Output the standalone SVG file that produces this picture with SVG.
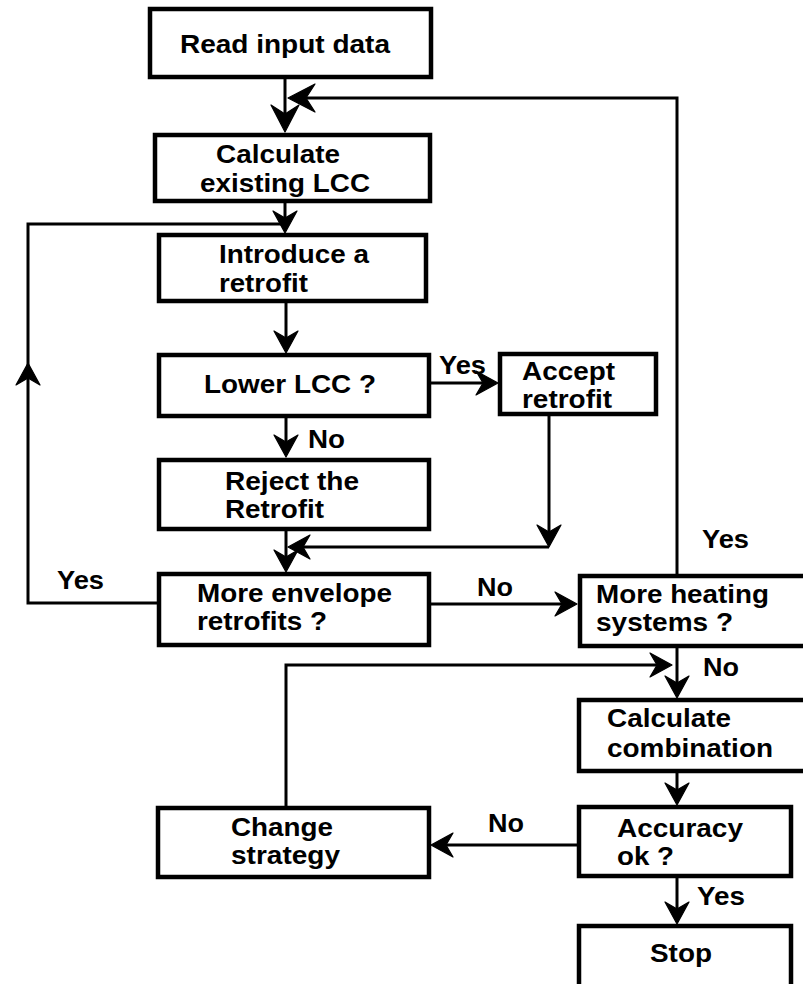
<svg xmlns="http://www.w3.org/2000/svg" width="803" height="984" viewBox="0 0 803 984">
<style>
.box{fill:#fff;stroke:#000;stroke-width:4.5}
.t{font-family:"Liberation Sans",Arial,sans-serif;font-weight:bold;font-size:26px;fill:#000}
.c{fill:none;stroke:#000;stroke-width:3}
.a{marker-end:url(#arr)}
.ab{marker-end:url(#arrb)}
</style>
<defs>
<marker id="arr" markerUnits="userSpaceOnUse" viewBox="-22 -14 28 28" refX="0" refY="0" markerWidth="28" markerHeight="28" orient="auto" overflow="visible">
<path d="M4,0 L-18,-12 L-11,0 L-18,12 Z" fill="#000" stroke="#000" stroke-width="1.2" stroke-linejoin="round"/>
</marker>
<marker id="arrb" markerUnits="userSpaceOnUse" viewBox="-27 -16 33 32" refX="0" refY="0" markerWidth="33" markerHeight="32" orient="auto" overflow="visible">
<path d="M4,0 L-23,-14 L-14,0 L-23,14 Z" fill="#000" stroke="#000" stroke-width="1.2" stroke-linejoin="round"/>
</marker>
</defs>
<rect width="803" height="984" fill="#fff"/>
<g id="connectors">
<path class="c ab" d="M285,79 V128"/>
<path class="c ab" d="M677,576 V98 H292"/>
<path class="c a" d="M285,201 V229"/>
<path class="c a" d="M159,603 H28 V367"/>
<path class="c" d="M28,367 V224 H285"/>
<path class="c a" d="M286,301 V349"/>
<path class="c a" d="M429,383 H494"/>
<path class="c a" d="M286,416 V453"/>
<path class="c a" d="M549,414 V543"/>
<path class="c a" d="M549,547 H292"/>
<path class="c a" d="M286,529 V568"/>
<path class="c a" d="M429,604 H573"/>
<path class="c a" d="M677,646 V694"/>
<path class="c a" d="M286,808 V665 H668"/>
<path class="c a" d="M677,771 V801"/>
<path class="c a" d="M579,845 H435"/>
<path class="c a" d="M677,876 V920"/>
</g>
<g id="labels">
<text class="t" x="439" y="374" textLength="47" lengthAdjust="spacingAndGlyphs">Yes</text>
<text class="t" x="308" y="448" textLength="37" lengthAdjust="spacingAndGlyphs">No</text>
<text class="t" x="702" y="548" textLength="47" lengthAdjust="spacingAndGlyphs">Yes</text>
<text class="t" x="57" y="589" textLength="47" lengthAdjust="spacingAndGlyphs">Yes</text>
<text class="t" x="477" y="596" textLength="36" lengthAdjust="spacingAndGlyphs">No</text>
<text class="t" x="703" y="676" textLength="36" lengthAdjust="spacingAndGlyphs">No</text>
<text class="t" x="488" y="832" textLength="36" lengthAdjust="spacingAndGlyphs">No</text>
<text class="t" x="697" y="905" textLength="48" lengthAdjust="spacingAndGlyphs">Yes</text>
</g>
<g id="read">
<rect class="box" x="150" y="9" width="281" height="68"/>
<text class="t" x="180" y="53" textLength="210" lengthAdjust="spacingAndGlyphs">Read input data</text>
</g>
<g id="calc-existing">
<rect class="box" x="155" y="135" width="275" height="66"/>
<text class="t" x="216" y="163" textLength="124" lengthAdjust="spacingAndGlyphs">Calculate</text>
<text class="t" x="200" y="192" textLength="170" lengthAdjust="spacingAndGlyphs">existing LCC</text>
</g>
<g id="introduce">
<rect class="box" x="159" y="235" width="267" height="66"/>
<text class="t" x="219" y="263" textLength="150" lengthAdjust="spacingAndGlyphs">Introduce a</text>
<text class="t" x="219" y="292" textLength="89" lengthAdjust="spacingAndGlyphs">retrofit</text>
</g>
<g id="lower">
<rect class="box" x="159" y="355" width="270" height="61"/>
<text class="t" x="204" y="393" textLength="172" lengthAdjust="spacingAndGlyphs">Lower LCC ?</text>
</g>
<g id="accept">
<rect class="box" x="500" y="354" width="156" height="60"/>
<text class="t" x="522" y="380" textLength="93" lengthAdjust="spacingAndGlyphs">Accept</text>
<text class="t" x="522" y="408" textLength="90" lengthAdjust="spacingAndGlyphs">retrofit</text>
</g>
<g id="reject">
<rect class="box" x="159" y="460" width="270" height="69"/>
<text class="t" x="225" y="490" textLength="134" lengthAdjust="spacingAndGlyphs">Reject the</text>
<text class="t" x="225" y="518" textLength="99" lengthAdjust="spacingAndGlyphs">Retrofit</text>
</g>
<g id="envelope">
<rect class="box" x="159" y="574" width="270" height="71"/>
<text class="t" x="197" y="602" textLength="195" lengthAdjust="spacingAndGlyphs">More envelope</text>
<text class="t" x="197" y="630" textLength="130" lengthAdjust="spacingAndGlyphs">retrofits ?</text>
</g>
<g id="heating">
<rect class="box" x="580" y="576" width="240" height="70"/>
<text class="t" x="596" y="603" textLength="173" lengthAdjust="spacingAndGlyphs">More heating</text>
<text class="t" x="596" y="631" textLength="137" lengthAdjust="spacingAndGlyphs">systems ?</text>
</g>
<g id="combination">
<rect class="box" x="579" y="700" width="240" height="71"/>
<text class="t" x="607" y="727" textLength="124" lengthAdjust="spacingAndGlyphs">Calculate</text>
<text class="t" x="607" y="757" textLength="166" lengthAdjust="spacingAndGlyphs">combination</text>
</g>
<g id="accuracy">
<rect class="box" x="579" y="807" width="212" height="69"/>
<text class="t" x="617" y="837" textLength="126" lengthAdjust="spacingAndGlyphs">Accuracy</text>
<text class="t" x="617" y="865" textLength="57" lengthAdjust="spacingAndGlyphs">ok ?</text>
</g>
<g id="change">
<rect class="box" x="158" y="808" width="271" height="69"/>
<text class="t" x="231" y="836" textLength="102" lengthAdjust="spacingAndGlyphs">Change</text>
<text class="t" x="231" y="864" textLength="109" lengthAdjust="spacingAndGlyphs">strategy</text>
</g>
<g id="stop">
<rect class="box" x="579" y="926" width="212" height="70"/>
<text class="t" x="650" y="962" textLength="62" lengthAdjust="spacingAndGlyphs">Stop</text>
</g>
</svg>
